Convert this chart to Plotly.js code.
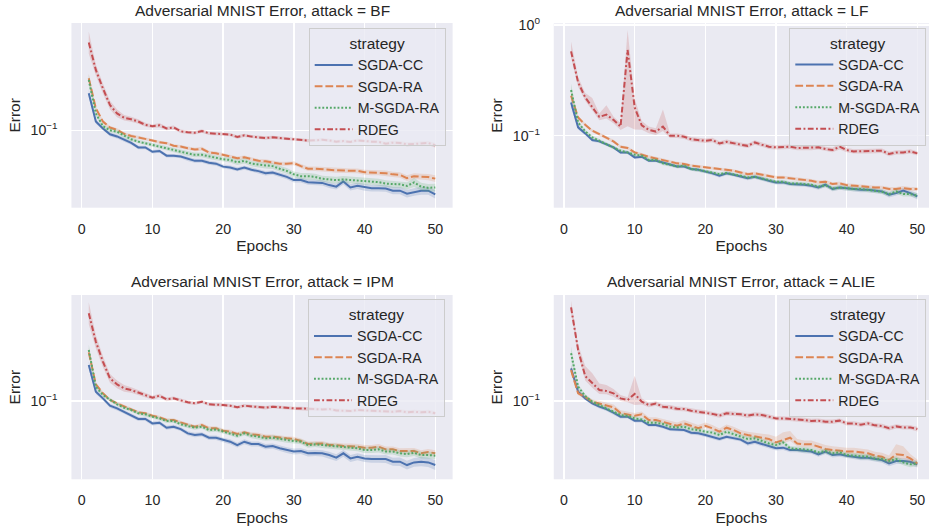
<!DOCTYPE html>
<html><head><meta charset="utf-8">
<script src="https://cdn.plot.ly/plotly-3.0.1.min.js"></script>
<style>html,body{margin:0;padding:0;background:#fff}#chart{width:929px;height:529px}</style>
</head><body><div id="chart"></div>
<script>
const epochs = [1,2,3,4,5,6,7,8,9,10,11,12,13,14,15,16,17,18,19,20,21,22,23,24,25,26,27,28,29,30,31,32,33,34,35,36,37,38,39,40,41,42,43,44,45,46,47,48,49,50];
const strategies = ["SGDA-CC","SGDA-RA","M-SGDA-RA","RDEG"];
const attacks = ["BF","LF","IPM","ALIE"];
const xTicks = [0,10,20,30,40,50];

// ---- attack = BF ----
const bfCC = [0.216,0.120,0.104,0.092,0.088,0.082,0.077,0.070,0.070,0.064,0.065,0.059,0.059,0.058,0.055,0.053,0.053,0.051,0.050,0.047,0.0462,0.0444,0.046,0.044,0.0428,0.041,0.0415,0.0395,0.038,0.0355,0.0355,0.034,0.034,0.0335,0.032,0.031,0.0345,0.0305,0.0315,0.0305,0.030,0.030,0.0298,0.0285,0.0285,0.0268,0.0278,0.0285,0.0285,0.0264];
const bfRA = [0.295,0.158,0.120,0.106,0.101,0.093,0.089,0.0865,0.0835,0.081,0.078,0.0765,0.0725,0.0715,0.069,0.067,0.068,0.063,0.062,0.060,0.0585,0.056,0.057,0.055,0.053,0.0525,0.0515,0.050,0.050,0.0505,0.0475,0.045,0.045,0.0448,0.044,0.0435,0.0435,0.043,0.043,0.0418,0.0415,0.0415,0.041,0.040,0.0395,0.037,0.0385,0.038,0.0378,0.0366];
const bfMRA = [0.285,0.142,0.109,0.100,0.097,0.089,0.083,0.079,0.0765,0.0735,0.071,0.069,0.0665,0.064,0.0615,0.060,0.060,0.058,0.0565,0.0548,0.054,0.0515,0.053,0.050,0.049,0.048,0.0475,0.045,0.043,0.040,0.0385,0.0385,0.038,0.0365,0.036,0.0355,0.036,0.0355,0.035,0.0345,0.0345,0.034,0.033,0.0325,0.0325,0.0315,0.0338,0.031,0.0302,0.0305];
const bfRD = [0.62,0.351,0.239,0.169,0.142,0.130,0.126,0.120,0.112,0.109,0.111,0.104,0.106,0.098,0.096,0.095,0.0986,0.094,0.0933,0.0926,0.0914,0.087,0.090,0.0877,0.0865,0.0852,0.0864,0.0852,0.0846,0.0835,0.0823,0.0807,0.0812,0.0823,0.0812,0.079,0.080,0.0785,0.0812,0.0796,0.079,0.0785,0.0758,0.0774,0.0768,0.0747,0.0752,0.0758,0.0768,0.0732];
const bfCCci = [0.036,0.02,0.018,0.018,0.018,0.018,0.016,0.016,0.016,0.016,0.016,0.016,0.016,0.016,0.018,0.018,0.018,0.018,0.018,0.018,0.018,0.018,0.018,0.02,0.02,0.02,0.02,0.02,0.022,0.022,0.022,0.024,0.024,0.024,0.026,0.026,0.028,0.028,0.028,0.03,0.03,0.03,0.03,0.032,0.032,0.034,0.034,0.036,0.036,0.038];
const bfRAci = [0.04,0.018,0.015,0.014,0.014,0.014,0.014,0.014,0.014,0.014,0.014,0.014,0.014,0.014,0.016,0.016,0.018,0.016,0.016,0.016,0.016,0.016,0.016,0.016,0.016,0.018,0.018,0.018,0.018,0.018,0.02,0.02,0.02,0.02,0.02,0.022,0.022,0.022,0.022,0.022,0.024,0.024,0.024,0.024,0.024,0.026,0.026,0.028,0.028,0.03];
const bfMRAci = [0.05,0.022,0.018,0.018,0.018,0.018,0.018,0.018,0.02,0.02,0.02,0.02,0.02,0.02,0.022,0.022,0.022,0.022,0.022,0.022,0.024,0.024,0.024,0.024,0.024,0.026,0.026,0.026,0.026,0.026,0.028,0.028,0.028,0.028,0.028,0.03,0.03,0.03,0.03,0.03,0.03,0.03,0.03,0.03,0.03,0.032,0.04,0.034,0.034,0.034];
const bfRDci = [0.1,0.05,0.045,0.04,0.035,0.025,0.022,0.02,0.018,0.016,0.02,0.016,0.018,0.016,0.015,0.015,0.015,0.015,0.015,0.015,0.015,0.015,0.015,0.015,0.015,0.015,0.015,0.015,0.015,0.015,0.015,0.015,0.015,0.015,0.015,0.015,0.015,0.015,0.015,0.015,0.015,0.015,0.018,0.018,0.018,0.018,0.018,0.018,0.018,0.02];

// ---- attack = LF ----
const lfCC = [0.200,0.119,0.105,0.0914,0.0889,0.0841,0.0785,0.0707,0.0707,0.0637,0.0646,0.0595,0.0595,0.0574,0.0547,0.0528,0.0528,0.050,0.0493,0.0476,0.0457,0.0435,0.0457,0.0444,0.0429,0.0414,0.0426,0.0406,0.0392,0.0379,0.0379,0.0366,0.0366,0.0361,0.0353,0.0341,0.0361,0.0330,0.0341,0.0334,0.0330,0.0325,0.0325,0.0319,0.0314,0.0293,0.0303,0.0319,0.0303,0.0283];
const lfRA = [0.230,0.146,0.1257,0.111,0.1035,0.0953,0.0889,0.0796,0.0774,0.0707,0.0674,0.0646,0.0624,0.0603,0.0586,0.0563,0.0555,0.0536,0.0528,0.0518,0.051,0.050,0.049,0.0483,0.0466,0.045,0.0457,0.0444,0.0429,0.042,0.042,0.0414,0.0406,0.040,0.0392,0.0379,0.0384,0.0366,0.0371,0.0358,0.0353,0.0353,0.0346,0.0341,0.0341,0.033,0.033,0.0337,0.033,0.033];
const lfMRA = [0.2585,0.1319,0.1094,0.0966,0.0901,0.0841,0.0785,0.0732,0.0707,0.0674,0.066,0.0603,0.0603,0.0563,0.0547,0.0528,0.0536,0.050,0.0493,0.0476,0.0466,0.045,0.046,0.045,0.0435,0.042,0.0426,0.0412,0.0398,0.0384,0.0384,0.0371,0.0371,0.0366,0.0361,0.0346,0.0358,0.0334,0.0341,0.0337,0.033,0.033,0.0323,0.0319,0.0312,0.0297,0.0314,0.0297,0.0297,0.0287];
const lfRD = [0.578,0.303,0.222,0.182,0.148,0.155,0.139,0.121,0.595,0.180,0.124,0.113,0.109,0.121,0.100,0.100,0.098,0.093,0.0914,0.090,0.0914,0.0852,0.0883,0.0852,0.083,0.081,0.087,0.083,0.0796,0.0785,0.0785,0.0796,0.0774,0.0774,0.0774,0.0785,0.0758,0.0742,0.0796,0.0742,0.0722,0.0722,0.0722,0.0722,0.0732,0.0683,0.0707,0.0707,0.0722,0.0693];
const lfCCci = [0.045,0.02,0.016,0.016,0.015,0.015,0.015,0.015,0.015,0.015,0.015,0.015,0.015,0.015,0.016,0.016,0.016,0.016,0.016,0.016,0.016,0.016,0.016,0.016,0.016,0.018,0.018,0.018,0.018,0.018,0.018,0.018,0.018,0.018,0.018,0.02,0.02,0.02,0.02,0.02,0.02,0.022,0.022,0.022,0.022,0.024,0.024,0.026,0.026,0.028];
const lfRAci = [0.04,0.016,0.014,0.014,0.014,0.014,0.014,0.014,0.014,0.014,0.014,0.014,0.014,0.014,0.014,0.014,0.014,0.014,0.014,0.014,0.014,0.014,0.014,0.014,0.014,0.015,0.015,0.015,0.015,0.015,0.015,0.015,0.015,0.015,0.015,0.016,0.016,0.016,0.016,0.016,0.016,0.016,0.016,0.016,0.016,0.018,0.018,0.018,0.018,0.018];
const lfMRAci = [0.06,0.022,0.016,0.016,0.016,0.016,0.016,0.016,0.016,0.016,0.016,0.016,0.016,0.016,0.016,0.016,0.016,0.016,0.016,0.016,0.016,0.016,0.016,0.016,0.016,0.018,0.018,0.018,0.018,0.018,0.018,0.018,0.018,0.018,0.018,0.02,0.02,0.02,0.02,0.02,0.02,0.02,0.02,0.02,0.02,0.022,0.022,0.022,0.022,0.022];
const lfRDup = [0.09,0.05,0.04,0.08,0.03,0.085,0.03,0.03,0.18,0.08,0.04,0.03,0.03,0.155,0.02,0.02,0.02,0.02,0.02,0.02,0.02,0.02,0.02,0.02,0.02,0.02,0.02,0.02,0.02,0.02,0.02,0.02,0.02,0.02,0.02,0.02,0.02,0.02,0.03,0.02,0.02,0.02,0.02,0.02,0.02,0.02,0.02,0.02,0.02,0.02];
const lfRDdn = [0.06,0.04,0.03,0.03,0.03,0.035,0.03,0.03,0.69,0.2,0.04,0.03,0.03,0.04,0.02,0.02,0.02,0.02,0.02,0.02,0.02,0.02,0.02,0.02,0.02,0.02,0.02,0.02,0.02,0.02,0.02,0.02,0.02,0.02,0.02,0.02,0.02,0.02,0.025,0.02,0.02,0.02,0.02,0.02,0.02,0.02,0.02,0.02,0.02,0.02];

// ---- attack = IPM ----
const ipmCC = [0.211,0.1214,0.1057,0.0907,0.0858,0.080,0.0748,0.0688,0.0688,0.0628,0.0637,0.0574,0.0586,0.0558,0.051,0.0493,0.050,0.0466,0.0466,0.0444,0.0429,0.040,0.0429,0.0409,0.0409,0.0387,0.0392,0.0374,0.0361,0.035,0.0353,0.0337,0.034,0.0337,0.0325,0.0308,0.0337,0.0303,0.0314,0.0303,0.0299,0.0299,0.0299,0.0283,0.0283,0.0264,0.0279,0.0283,0.0279,0.0264];
const ipmRA = [0.275,0.1415,0.1173,0.1021,0.0953,0.0889,0.0841,0.079,0.0774,0.0737,0.0712,0.0674,0.0674,0.0641,0.0616,0.0586,0.0607,0.0567,0.0567,0.054,0.0528,0.0503,0.0521,0.050,0.0493,0.0476,0.0476,0.0466,0.046,0.0454,0.0435,0.0409,0.0414,0.0414,0.040,0.040,0.0392,0.0392,0.0387,0.0379,0.0379,0.0387,0.0366,0.0366,0.0353,0.0353,0.0353,0.0337,0.0346,0.0337];
const ipmMRA = [0.289,0.1347,0.1133,0.1021,0.0933,0.087,0.0829,0.0774,0.0758,0.0722,0.0697,0.066,0.066,0.0616,0.0598,0.0574,0.0586,0.0547,0.0553,0.0528,0.051,0.0486,0.051,0.0486,0.0476,0.046,0.0466,0.0454,0.0444,0.0435,0.0429,0.040,0.0406,0.040,0.0392,0.0387,0.0379,0.0379,0.0374,0.0361,0.0361,0.0366,0.035,0.035,0.0337,0.0332,0.0341,0.0325,0.0325,0.0321];
const ipmRD = [0.62,0.343,0.227,0.160,0.1415,0.130,0.1257,0.1197,0.1133,0.1072,0.1117,0.1035,0.1057,0.1007,0.0973,0.0953,0.0986,0.0933,0.0933,0.092,0.0907,0.0877,0.0907,0.0895,0.0883,0.087,0.0889,0.0877,0.087,0.0858,0.0858,0.0846,0.0846,0.084,0.0846,0.0823,0.0818,0.0812,0.0829,0.0818,0.0818,0.0812,0.080,0.080,0.0812,0.079,0.080,0.079,0.080,0.0774];
const ipmCCci = [0.036,0.02,0.018,0.018,0.018,0.018,0.018,0.018,0.018,0.018,0.018,0.018,0.018,0.018,0.02,0.02,0.02,0.02,0.02,0.02,0.022,0.022,0.022,0.022,0.022,0.024,0.024,0.024,0.026,0.026,0.026,0.028,0.028,0.028,0.03,0.03,0.03,0.032,0.032,0.032,0.034,0.034,0.036,0.036,0.038,0.04,0.04,0.042,0.042,0.045];
const ipmRAci = [0.04,0.018,0.015,0.015,0.015,0.015,0.015,0.015,0.015,0.015,0.015,0.016,0.016,0.016,0.016,0.016,0.018,0.018,0.018,0.018,0.018,0.018,0.018,0.02,0.02,0.02,0.02,0.02,0.02,0.02,0.022,0.022,0.022,0.022,0.022,0.022,0.022,0.024,0.024,0.024,0.024,0.024,0.026,0.026,0.026,0.026,0.028,0.028,0.028,0.028];
const ipmMRAci = [0.05,0.02,0.016,0.016,0.016,0.016,0.016,0.016,0.016,0.016,0.016,0.018,0.018,0.018,0.018,0.018,0.018,0.02,0.02,0.02,0.02,0.02,0.02,0.022,0.022,0.022,0.022,0.022,0.024,0.024,0.024,0.024,0.024,0.026,0.026,0.026,0.026,0.026,0.026,0.028,0.028,0.028,0.028,0.028,0.028,0.03,0.03,0.03,0.03,0.03];
const ipmRDci = [0.1,0.06,0.05,0.04,0.035,0.03,0.025,0.022,0.02,0.018,0.018,0.016,0.016,0.016,0.016,0.015,0.015,0.015,0.015,0.015,0.015,0.015,0.015,0.015,0.015,0.015,0.015,0.015,0.015,0.015,0.015,0.015,0.015,0.015,0.015,0.016,0.016,0.016,0.016,0.016,0.016,0.016,0.016,0.016,0.016,0.018,0.018,0.018,0.018,0.018];

// ---- attack = ALIE ----
const alCC = [0.197,0.1213,0.1057,0.0953,0.089,0.0845,0.0785,0.0722,0.0722,0.0664,0.0664,0.0607,0.0607,0.0586,0.0555,0.0547,0.0547,0.0518,0.0512,0.0493,0.0476,0.0454,0.0476,0.046,0.0448,0.0414,0.0429,0.0409,0.0394,0.0374,0.0379,0.0361,0.0361,0.0353,0.035,0.033,0.035,0.0325,0.033,0.0321,0.0314,0.0308,0.0308,0.0299,0.0293,0.0273,0.0287,0.0287,0.0283,0.0268];
const alRA = [0.19,0.1174,0.109,0.0986,0.095,0.092,0.0877,0.078,0.0755,0.0735,0.0758,0.0674,0.0674,0.065,0.0628,0.0598,0.0628,0.0598,0.0567,0.0598,0.0567,0.0528,0.0574,0.0547,0.051,0.0493,0.0476,0.0466,0.0454,0.0423,0.0444,0.0466,0.0414,0.0406,0.0406,0.0387,0.0369,0.0361,0.0353,0.035,0.035,0.0344,0.0337,0.0321,0.0314,0.0293,0.033,0.0325,0.0303,0.0273];
const alMRA = [0.27,0.1346,0.111,0.0986,0.092,0.0859,0.080,0.0748,0.0732,0.0697,0.0683,0.0637,0.0637,0.062,0.0586,0.0578,0.0586,0.0555,0.0547,0.0528,0.0518,0.0493,0.0528,0.0503,0.0476,0.0454,0.046,0.0435,0.0414,0.040,0.0423,0.0374,0.0369,0.0361,0.0361,0.0344,0.0353,0.0337,0.0344,0.0325,0.0321,0.0314,0.0314,0.0303,0.0299,0.0287,0.0299,0.0279,0.0268,0.0273];
const alRD = [0.70,0.289,0.168,0.1445,0.1257,0.1232,0.1174,0.1057,0.1021,0.116,0.0986,0.092,0.095,0.0888,0.0877,0.085,0.0845,0.0818,0.080,0.079,0.0765,0.0738,0.0774,0.0765,0.0758,0.0737,0.0758,0.0748,0.072,0.0697,0.0697,0.069,0.0685,0.0674,0.066,0.0665,0.065,0.065,0.0665,0.0628,0.0628,0.0612,0.0628,0.0603,0.0595,0.0567,0.059,0.0578,0.0578,0.0558];
const alCCci = [0.04,0.02,0.016,0.016,0.016,0.016,0.016,0.016,0.016,0.016,0.016,0.016,0.016,0.016,0.016,0.016,0.016,0.018,0.018,0.018,0.018,0.018,0.018,0.018,0.018,0.02,0.02,0.02,0.02,0.02,0.02,0.02,0.02,0.02,0.02,0.022,0.022,0.022,0.022,0.022,0.024,0.024,0.024,0.024,0.024,0.026,0.026,0.026,0.028,0.028];
const alRAup = [0.04,0.02,0.02,0.02,0.025,0.025,0.025,0.025,0.025,0.025,0.025,0.025,0.025,0.025,0.025,0.03,0.03,0.03,0.03,0.03,0.03,0.03,0.03,0.03,0.03,0.03,0.035,0.035,0.04,0.05,0.07,0.06,0.04,0.035,0.035,0.035,0.035,0.035,0.035,0.035,0.035,0.035,0.035,0.035,0.035,0.04,0.09,0.08,0.04,0.035];
const alRAdn = [0.035,0.018,0.018,0.018,0.02,0.02,0.02,0.02,0.02,0.02,0.02,0.02,0.02,0.02,0.02,0.02,0.02,0.02,0.02,0.02,0.02,0.02,0.02,0.02,0.02,0.022,0.022,0.022,0.022,0.025,0.03,0.03,0.025,0.025,0.025,0.025,0.025,0.025,0.025,0.025,0.025,0.025,0.025,0.025,0.025,0.028,0.04,0.035,0.03,0.03];
const alMRAci = [0.06,0.025,0.018,0.018,0.018,0.018,0.018,0.018,0.018,0.018,0.018,0.018,0.018,0.018,0.018,0.018,0.018,0.02,0.02,0.02,0.02,0.02,0.02,0.02,0.02,0.022,0.022,0.022,0.022,0.022,0.022,0.022,0.022,0.022,0.022,0.024,0.024,0.024,0.024,0.024,0.024,0.024,0.024,0.024,0.024,0.026,0.026,0.026,0.026,0.026];
const alRDup = [0.06,0.05,0.09,0.09,0.06,0.054,0.04,0.03,0.025,0.163,0.03,0.02,0.02,0.02,0.02,0.02,0.02,0.02,0.02,0.02,0.02,0.02,0.02,0.02,0.02,0.02,0.02,0.02,0.02,0.02,0.02,0.02,0.02,0.02,0.02,0.02,0.02,0.02,0.02,0.02,0.02,0.02,0.02,0.02,0.02,0.02,0.02,0.02,0.02,0.022];
const alRDdn = [0.05,0.04,0.04,0.04,0.035,0.03,0.03,0.025,0.02,0.1,0.025,0.02,0.02,0.02,0.02,0.02,0.02,0.02,0.02,0.02,0.02,0.02,0.02,0.02,0.02,0.02,0.02,0.02,0.02,0.02,0.02,0.02,0.02,0.02,0.02,0.02,0.02,0.02,0.02,0.02,0.02,0.02,0.02,0.02,0.02,0.02,0.02,0.02,0.02,0.022];

// ---- styles ----
const colors = ["#4c72b0","#dd8452","#55a868","#c44e52"];
const fills = ["rgba(76,114,176,0.2)","rgba(221,132,82,0.2)","rgba(85,168,104,0.2)","rgba(196,78,82,0.2)"];
const dashes = ["solid","7.8px,2.9px","1.9px,1.9px","5.8px,2.4px,1.9px,2.4px"];

const panels = [
  {attack: attacks[0], ys: [bfCC,bfRA,bfMRA,bfRD], up: [bfCCci,bfRAci,bfMRAci,bfRDci], dn: [bfCCci,bfRAci,bfMRAci,bfRDci]},
  {attack: attacks[1], ys: [lfCC,lfRA,lfMRA,lfRD], up: [lfCCci,lfRAci,lfMRAci,lfRDup], dn: [lfCCci,lfRAci,lfMRAci,lfRDdn]},
  {attack: attacks[2], ys: [ipmCC,ipmRA,ipmMRA,ipmRD], up: [ipmCCci,ipmRAci,ipmMRAci,ipmRDci], dn: [ipmCCci,ipmRAci,ipmMRAci,ipmRDci]},
  {attack: attacks[3], ys: [alCC,alRA,alMRA,alRD], up: [alCCci,alRAup,alMRAci,alRDup], dn: [alCCci,alRAdn,alMRAci,alRDdn]}
];

// layout geometry (paper fractions)
const W = 929, H = 529;
const xDom = [[71.45/W, 452.6/W],[553.75/W, 1],[71.45/W, 452.6/W],[553.75/W, 1]];
const yDom = [[1-207.7/H, 1-23/H],[1-207.7/H, 1-23.3/H],[1-479.3/H, 1-295/H],[1-479.3/H, 1-295/H]];
const xRng = [[-1.45,52.45],[-1.45,51.65],[-1.45,52.45],[-1.45,51.65]];
const yRng = [[-1.699,-0.0307],[-1.650,0.0154],[-1.707,-0.0425],[-1.707,-0.0425]];
const yTickVals = [[0.1],[0.1,1],[0.1],[0.1]];
const yTickText = [["10<sup>−1</sup>"],["10<sup>−1</sup>","10<sup>0</sup>"],["10<sup>−1</sup>"],["10<sup>−1</sup>"]];
const legPos = [[445.7,28],[926.3,27.5],[445,299],[926.3,299]];
const titleX = [262, 741, 262, 741];

const FONT = "Liberation Sans, Arial, Helvetica, sans-serif";
const TXT = "#262626";
const traces = [];
const layout = {
  width: W, height: H,
  margin: {l:0, r:0, t:0, b:0},
  paper_bgcolor: "#ffffff",
  plot_bgcolor: "#eaeaf2",
  font: {family: FONT, color: TXT, size: 14.2},
  showlegend: true,
  annotations: []
};

panels.forEach((p, i) => {
  const sfx = i === 0 ? "" : String(i+1);
  const xa = "x" + sfx, ya = "y" + sfx;
  const legName = "legend" + sfx;
  p.ys.forEach((ys, k) => {
    const upper = ys.map((v, j) => v * Math.pow(10, p.up[k][j]));
    const lower = ys.map((v, j) => v / Math.pow(10, p.dn[k][j]));
    traces.push({
      type: "scatter", mode: "lines", xaxis: xa, yaxis: ya,
      x: epochs.concat(epochs.slice().reverse()),
      y: upper.concat(lower.slice().reverse()),
      fill: "toself", fillcolor: fills[k], line: {width: 0, color: fills[k]},
      hoverinfo: "skip", showlegend: false, legend: legName
    });
    traces.push({
      type: "scatter", mode: "lines", xaxis: xa, yaxis: ya,
      x: epochs, y: ys, name: strategies[k], legend: legName,
      line: {color: colors[k], width: 2, dash: dashes[k]}
    });
  });
  layout["xaxis" + sfx] = {
    domain: xDom[i], range: xRng[i], anchor: ya,
    tickmode: "array", tickvals: xTicks,
    showgrid: true, gridcolor: "#ffffff", gridwidth: 1.3,
    zeroline: false, showline: false,
    ticks: "outside", ticklen: 8, tickcolor: "rgba(0,0,0,0)",
    tickfont: {size: 14.2, color: TXT, family: FONT},
    title: {text: "Epochs", font: {size: 15.5, color: TXT, family: FONT}, standoff: 4}
  };
  layout["yaxis" + sfx] = {
    domain: yDom[i], range: yRng[i], type: "log", anchor: xa,
    tickmode: "array", tickvals: yTickVals[i], ticktext: yTickText[i],
    showgrid: true, gridcolor: "#ffffff", gridwidth: 1.3,
    zeroline: false, showline: false,
    ticks: "outside", ticklen: 10, tickcolor: "rgba(0,0,0,0)",
    tickfont: {size: 14.2, color: TXT, family: FONT},
    title: {text: "Error", font: {size: 15.5, color: TXT, family: FONT}, standoff: 6}
  };
  layout[legName] = {
    x: legPos[i][0]/W, y: 1 - legPos[i][1]/H, xanchor: "right", yanchor: "top",
    xref: "paper", yref: "paper",
    bgcolor: "rgba(234,234,242,0.8)", bordercolor: "#cccccc", borderwidth: 1,
    font: {size: 14.2, color: TXT, family: FONT},
    title: {text: "strategy", side: "top center", font: {size: 15.5, color: TXT, family: FONT}},
    tracegroupgap: 0, itemwidth: 38
  };
  layout.annotations.push({
    text: "Adversarial MNIST Error, attack = " + p.attack,
    xref: "paper", yref: "paper",
    x: titleX[i]/W,
    y: i < 2 ? 1 - 10.5/H : 1 - 281.7/H,
    xanchor: "center", yanchor: "middle", showarrow: false,
    font: {size: 15.5, color: TXT, family: FONT}
  });
});

Plotly.newPlot("chart", traces, layout, {displayModeBar: false, staticPlot: true});
</script>
</body></html>
